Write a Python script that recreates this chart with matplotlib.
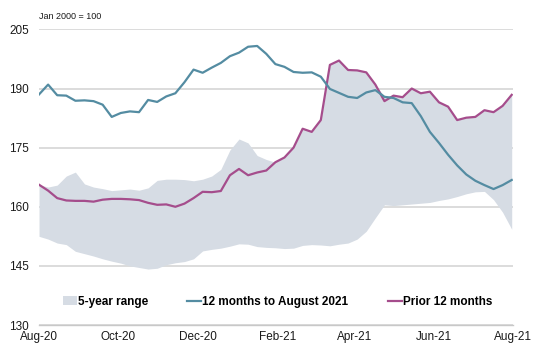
import pandas as pd
import matplotlib.pyplot as plt
import matplotlib.dates as mdates

plt.rcParams['font.family'] = ['Liberation Sans', 'DejaVu Sans']

###   Data (weekly readings, index Jan 2000 = 100)   ###

dates = pd.date_range('2020-08-01', periods=53, freq='7D')

last_12m = [188.5, 191.0, 188.3, 188.2, 186.9, 187.0, 186.8, 185.9, 182.8, 183.8,
            184.2, 184.0, 187.1, 186.6, 188.0, 188.8, 191.6, 194.8, 194.0, 195.3,
            196.5, 198.2, 199.1, 200.6, 200.8, 198.8, 196.2, 195.5, 194.2, 194.0,
            194.1, 193.0, 189.9, 188.9, 187.9, 187.6, 189.0, 189.6, 187.9, 187.6,
            186.5, 186.3, 183.0, 179.0, 176.2, 173.2, 170.5, 168.2, 166.6, 165.5,
            164.5, 165.5, 166.8]

prior_12m = [165.6, 164.1, 162.2, 161.6, 161.5, 161.5, 161.3, 161.8, 162.0, 162.0,
             161.9, 161.7, 161.0, 160.5, 160.6, 160.0, 160.8, 162.2, 163.8, 163.7,
             164.0, 168.0, 169.6, 168.0, 168.7, 169.2, 171.3, 172.5, 175.0, 179.8,
             179.0, 182.0, 196.0, 197.1, 194.7, 194.6, 194.1, 191.0, 186.8, 188.2,
             187.8, 190.0, 188.8, 189.2, 186.5, 185.4, 182.0, 182.6, 182.8, 184.5,
             184.0, 185.6, 188.4]

range_high = [165.6, 165.0, 165.5, 167.8, 168.8, 165.8, 165.0, 164.6, 164.1, 164.3,
              164.5, 164.2, 164.8, 166.7, 167.0, 167.0, 166.9, 166.6, 167.0, 167.8,
              169.5, 174.4, 177.2, 176.2, 173.0, 172.0, 171.3, 172.5, 175.0, 179.8,
              179.0, 182.0, 196.0, 197.1, 194.7, 194.6, 194.1, 191.0, 188.0, 188.2,
              187.8, 190.0, 188.8, 189.2, 186.5, 185.4, 182.0, 182.6, 182.8, 184.5,
              184.0, 185.6, 188.4]

range_low = [152.5, 151.8, 150.8, 150.4, 148.7, 148.1, 147.5, 146.8, 146.2, 145.7,
             145.0, 144.6, 144.2, 144.4, 145.3, 145.8, 146.1, 146.8, 148.8, 149.2,
             149.5, 150.0, 150.6, 150.5, 149.9, 149.7, 149.6, 149.4, 149.5, 150.2,
             150.4, 150.3, 150.1, 150.5, 150.8, 151.8, 153.8, 157.2, 160.5, 160.3,
             160.5, 160.7, 160.9, 161.1, 161.6, 162.0, 162.6, 163.3, 163.8, 163.9,
             161.8, 158.6, 154.3]

yticks = [130, 145, 160, 175, 190, 205]

###   Plotting   ###

fig = plt.figure(figsize=(5.33, 3.48), dpi=100)
ax = fig.add_axes([0.0732, 0.066, 0.8893, 0.8495])

ax.fill_between(dates, range_low, range_high, color='#d6dce4', lw=0,
                label='5-year range', zorder=2)
ax.plot(dates, last_12m, color='#548ca2', lw=1.6,
        label='12 months to August 2021', zorder=4)
ax.plot(dates, prior_12m, color='#a54d8c', lw=1.6,
        label='Prior 12 months', zorder=3)

ax.set_ylim(130, 205)
ax.set_yticks(yticks)
ax.set_xlim(pd.Timestamp('2020-08-01'), pd.Timestamp('2021-08-01'))
ax.xaxis.set_major_locator(mdates.MonthLocator(bymonth=[2, 4, 6, 8, 10, 12]))
ax.xaxis.set_major_formatter(mdates.DateFormatter('%b-%y'))

ax.grid(axis='y', color='#d9d9d9', lw=1.3, zorder=1)
ax.set_axisbelow(True)
for s in ['top', 'right', 'left']:
    ax.spines[s].set_visible(False)
ax.spines['bottom'].set_color('#c8c8c8')
ax.spines['bottom'].set_linewidth(1.0)
ax.tick_params(axis='both', length=0, labelsize=8.5, colors='#1a1a1a')
ax.tick_params(axis='y', pad=7)
ax.tick_params(axis='x', pad=4)

ax.text(0.0, 1.03, 'Jan 2000 = 100', transform=ax.transAxes,
        fontsize=6.5, color='#1a1a1a', va='bottom')

leg = ax.legend(loc='center', bbox_to_anchor=(0.503, 0.079), ncol=3,
                frameon=False, handlelength=1.2, handletextpad=0.1,
                columnspacing=3.3, prop={'weight': 'bold', 'size': 8.5})

plt.savefig('out.png', dpi=100)
